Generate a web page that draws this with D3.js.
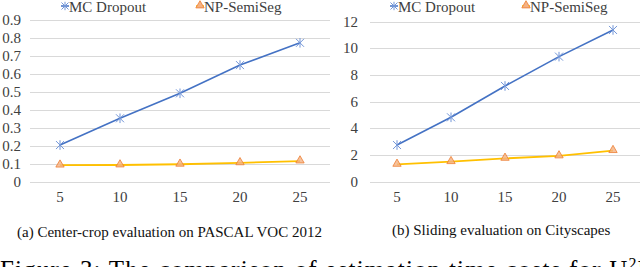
<!DOCTYPE html>
<html>
<head>
<meta charset="utf-8">
<script src="https://cdn.jsdelivr.net/npm/d3@7"></script>
<style>
  body { margin: 0; background: #fff; }
  svg { display: block; }
</style>
</head>
<body>
<div id="chart"></div>
<script>
// data
const xLabels = [5, 10, 15, 20, 25];
const seriesNames = ["MC Dropout", "NP-SemiSeg"];
const vocMC = [0.204, 0.353, 0.492, 0.649, 0.773];
const vocNP = [0.092, 0.093, 0.097, 0.105, 0.115];
const cityMC = [2.75, 4.83, 7.18, 9.38, 11.38];
const cityNP = [1.3, 1.5, 1.75, 1.93, 2.33];
const vocTicks = [0, 0.1, 0.2, 0.3, 0.4, 0.5, 0.6, 0.7, 0.8, 0.9];
const cityTicks = [0, 2, 4, 6, 8, 10, 12];
const captions = ["(a)  Center-crop evaluation on PASCAL VOC 2012", "(b) Sliding evaluation on Cityscapes"];

const width = 640;
const height = 267;
const font = "Liberation Serif";

const blue = "#4472C4";
const blueMark = "#7396D8";
const yellow = "#FFC000";
const orange = "#ED7D31";

const svg = d3.select("#chart")
  .append("svg")
  .attr("width", width)
  .attr("height", height);

// panel settings
const panels = [
  { left: 30, right: 330, top: 20, max: 0.9, ticks: vocTicks, fmt: d => d === 0 ? "0" : d.toFixed(1),
    labelX: 21, mc: vocMC, np: vocNP, legX: [65, 200], caption: captions[0], capX: 17, capY: 237 },
  { left: 370, right: 640, top: 21.7, max: 12, ticks: cityTicks, fmt: d3.format("d"),
    labelX: 358, mc: cityMC, np: cityNP, legX: [394, 526], caption: captions[1], capX: 392, capY: 235 }
];

const bottom = 181.7;

// star marker (x plus vertical bar)
function star(x, y, r, col) {
  svg.append("path")
    .attr("d", "M" + (x - r) + "," + (y - r) + "L" + (x + r) + "," + (y + r) +
      "M" + (x - r) + "," + (y + r) + "L" + (x + r) + "," + (y - r) +
      "M" + x + "," + (y - r * 1.2) + "L" + x + "," + (y + r * 1.2))
    .attr("stroke", col)
    .attr("stroke-width", 1)
    .attr("fill", "none");
}

function label(x, y, txt, size, anchor, col) {
  return svg.append("text")
    .attr("x", x)
    .attr("y", y)
    .attr("text-anchor", anchor)
    .style("font-family", font)
    .style("font-size", size + "px")
    .style("fill", col)
    .text(txt);
}

const tri = d3.symbol().type(d3.symbolTriangle).size(30);

panels.forEach(function(p) {
  const x = d3.scaleBand()
    .domain(xLabels)
    .range([p.left, p.right]);

  const y = d3.scaleLinear()
    .domain([0, p.max])
    .range([bottom, p.top]);

  const cx = d => x(d) + x.bandwidth() / 2;

  // gridlines
  p.ticks.forEach(function(t) {
    svg.append("line")
      .attr("x1", p.left)
      .attr("x2", p.right)
      .attr("y1", Math.round(y(t)) + 0.5)
      .attr("y2", Math.round(y(t)) + 0.5)
      .attr("stroke", "#d9d9d9")
      .attr("stroke-width", 1);
    // y labels
    label(p.labelX, y(t) + 5, p.fmt(t), 15, "end", "#404040");
  });

  // x labels
  xLabels.forEach(function(d) { label(cx(d), 202, d, 15, "middle", "#404040"); });

  const line = d3.line()
    .x((d, i) => cx(xLabels[i]))
    .y(d => y(d));

  svg.append("path")
    .datum(p.np)
    .attr("d", line)
    .attr("fill", "none")
    .attr("stroke", yellow)
    .attr("stroke-width", 1.8);

  svg.append("path")
    .datum(p.mc)
    .attr("d", line)
    .attr("fill", "none")
    .attr("stroke", blue)
    .attr("stroke-width", 1.6);

  // markers
  p.mc.forEach(function(v, i) { star(cx(xLabels[i]), y(v), 4, blueMark); });

  p.np.forEach(function(v, i) {
    svg.append("path")
      .attr("d", tri)
      .attr("transform", "translate(" + cx(xLabels[i]) + "," + (y(v) - 0.5) + ")")
      .attr("fill", "#F4B183")
      .attr("fill-opacity", 0.8)
      .attr("stroke", orange)
      .attr("stroke-width", 0.8);
  });

  // legend
  svg.append("line")
    .attr("x1", p.legX[0] - 4).attr("x2", p.legX[0] + 4)
    .attr("y1", 6).attr("y2", 6)
    .attr("stroke", blue).attr("stroke-width", 1.5);
  star(p.legX[0], 6, 3.5, blueMark);
  label(p.legX[0] + 4, 12, seriesNames[0], 15, "start", "#404040");

  svg.append("line")
    .attr("x1", p.legX[1] - 4).attr("x2", p.legX[1] + 4)
    .attr("y1", 6).attr("y2", 6)
    .attr("stroke", yellow).attr("stroke-width", 1.5);
  svg.append("path")
    .attr("d", tri)
    .attr("transform", "translate(" + p.legX[1] + ",5.5)")
    .attr("fill", "#F4B183")
    .attr("stroke", orange)
    .attr("stroke-width", 0.8);
  label(p.legX[1] + 4, 12, seriesNames[1], 15, "start", "#404040");

  // caption
  label(p.capX, p.capY, p.caption, 15, "start", "#111");
});

// figure caption, cut by the bottom edge
const fig = svg.append("text")
  .attr("x", 0)
  .attr("y", 278)
  .attr("textLength", 668)
  .attr("lengthAdjust", "spacing")
  .style("font-family", font)
  .style("font-size", "25px")
  .style("fill", "#000");
fig.append("tspan").text("Figure 3: The comparison of estimation time costs for U");
fig.append("tspan").attr("dy", -9).style("font-size", "16px").text("2");
fig.append("tspan").attr("dy", 9).text("PL");
</script>
</body>
</html>
